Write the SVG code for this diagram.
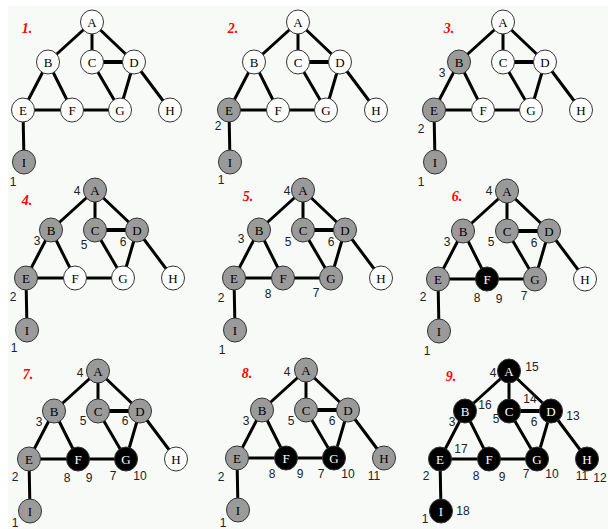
<svg xmlns="http://www.w3.org/2000/svg" xmlns:xlink="http://www.w3.org/1999/xlink" width="608" height="529" viewBox="0 0 608 529">
  <style>
    .edge { stroke: #000; stroke-width: 3; stroke-linecap: round; fill: none; }
    .node use { stroke: #333; stroke-width: 1; }
    .w use { fill: #fff; }
    .g use { fill: #9a9a9a; }
    .k use { fill: #000; }
    .node text { font-family: "Liberation Serif", "Times New Roman", serif; font-size: 13px; text-anchor: middle; fill: #000; }
    .k text { fill: #fff; }
    .num { font-family: "Liberation Sans", Arial, sans-serif; font-size: 12px; text-anchor: middle; fill: #222; }
    .step { font-family: "Liberation Serif", "Times New Roman", serif; font-size: 14px; font-style: italic; font-weight: bold; text-anchor: middle; fill: #f00; }
  </style>
  <defs>
    <!-- edge set shared by every step, relative to vertex A -->
    <g id="edges">
      <line x1="0" y1="0" x2="-44" y2="40"/>
      <line x1="0" y1="0" x2="0" y2="40"/>
      <line x1="0" y1="0" x2="42" y2="40"/>
      <line x1="-44" y1="40" x2="-69" y2="88"/>
      <line x1="-44" y1="40" x2="-20" y2="88"/>
      <line x1="0" y1="40" x2="42" y2="40" stroke-width="4"/>
      <line x1="0" y1="40" x2="28" y2="88"/>
      <line x1="42" y1="40" x2="28" y2="88"/>
      <line x1="42" y1="40" x2="78" y2="88"/>
      <line x1="-69" y1="88" x2="-20" y2="88"/>
      <line x1="-20" y1="88" x2="28" y2="88"/>
      <line x1="-69" y1="88" x2="-68" y2="140"/>
    </g>
    <ellipse id="v" rx="11.5" ry="12"/>
  </defs>

  <rect width="608" height="529" fill="#fff"/>
  <rect x="8" y="6" width="600" height="523" fill="#f7faf7"/>

  <!-- step labels -->
  <g id="steps">
    <text class="step" x="27" y="33">1.</text>
    <text class="step" x="233" y="33">2.</text>
    <text class="step" x="449" y="33">3.</text>
    <text class="step" x="27" y="205">4.</text>
    <text class="step" x="248" y="201">5.</text>
    <text class="step" x="457" y="201">6.</text>
    <text class="step" x="28" y="379">7.</text>
    <text class="step" x="247" y="378">8.</text>
    <text class="step" x="451" y="381">9.</text>
  </g>

  <!-- step 1 -->
  <g id="step1" transform="translate(92,22)">
    <g id="s1-connectors" class="edge"><use xlink:href="#edges"/></g>
    <g id="s1-A" class="node w"><use xlink:href="#v" x="0" y="0"/><text x="0" y="4.5">A</text></g>
    <g id="s1-B" class="node w"><use xlink:href="#v" x="-44" y="40"/><text x="-44" y="44.5">B</text></g>
    <g id="s1-C" class="node w"><use xlink:href="#v" x="0" y="40"/><text x="0" y="44.5">C</text></g>
    <g id="s1-D" class="node w"><use xlink:href="#v" x="42" y="40"/><text x="42" y="44.5">D</text></g>
    <g id="s1-E" class="node w"><use xlink:href="#v" x="-69" y="88"/><text x="-69" y="92.5">E</text></g>
    <g id="s1-F" class="node w"><use xlink:href="#v" x="-20" y="88"/><text x="-20" y="92.5">F</text></g>
    <g id="s1-G" class="node w"><use xlink:href="#v" x="28" y="88"/><text x="28" y="92.5">G</text></g>
    <g id="s1-H" class="node w"><use xlink:href="#v" x="78" y="88"/><text x="78" y="92.5">H</text></g>
    <g id="s1-I" class="node g"><use xlink:href="#v" x="-68" y="140"/><text x="-68" y="144.5">I</text></g>
    <text class="num" x="-79" y="164">1</text>
  </g>

  <!-- step 2 -->
  <g id="step2" transform="translate(298,22)">
    <g id="s2-connectors" class="edge"><use xlink:href="#edges"/></g>
    <g id="s2-A" class="node w"><use xlink:href="#v" x="0" y="0"/><text x="0" y="4.5">A</text></g>
    <g id="s2-B" class="node w"><use xlink:href="#v" x="-44" y="40"/><text x="-44" y="44.5">B</text></g>
    <g id="s2-C" class="node w"><use xlink:href="#v" x="0" y="40"/><text x="0" y="44.5">C</text></g>
    <g id="s2-D" class="node w"><use xlink:href="#v" x="42" y="40"/><text x="42" y="44.5">D</text></g>
    <g id="s2-E" class="node g"><use xlink:href="#v" x="-69" y="88"/><text x="-69" y="92.5">E</text></g>
    <g id="s2-F" class="node w"><use xlink:href="#v" x="-20" y="88"/><text x="-20" y="92.5">F</text></g>
    <g id="s2-G" class="node w"><use xlink:href="#v" x="28" y="88"/><text x="28" y="92.5">G</text></g>
    <g id="s2-H" class="node w"><use xlink:href="#v" x="78" y="88"/><text x="78" y="92.5">H</text></g>
    <g id="s2-I" class="node g"><use xlink:href="#v" x="-68" y="140"/><text x="-68" y="144.5">I</text></g>
    <text class="num" x="-80" y="108">2</text>
    <text class="num" x="-77" y="162">1</text>
  </g>

  <!-- step 3 -->
  <g id="step3" transform="translate(503,22)">
    <g id="s3-connectors" class="edge"><use xlink:href="#edges"/></g>
    <g id="s3-A" class="node w"><use xlink:href="#v" x="0" y="0"/><text x="0" y="4.5">A</text></g>
    <g id="s3-B" class="node g"><use xlink:href="#v" x="-44" y="40"/><text x="-44" y="44.5">B</text></g>
    <g id="s3-C" class="node w"><use xlink:href="#v" x="0" y="40"/><text x="0" y="44.5">C</text></g>
    <g id="s3-D" class="node w"><use xlink:href="#v" x="42" y="40"/><text x="42" y="44.5">D</text></g>
    <g id="s3-E" class="node g"><use xlink:href="#v" x="-69" y="88"/><text x="-69" y="92.5">E</text></g>
    <g id="s3-F" class="node w"><use xlink:href="#v" x="-20" y="88"/><text x="-20" y="92.5">F</text></g>
    <g id="s3-G" class="node w"><use xlink:href="#v" x="28" y="88"/><text x="28" y="92.5">G</text></g>
    <g id="s3-H" class="node w"><use xlink:href="#v" x="78" y="88"/><text x="78" y="92.5">H</text></g>
    <g id="s3-I" class="node g"><use xlink:href="#v" x="-68" y="140"/><text x="-68" y="144.5">I</text></g>
    <text class="num" x="-61" y="55">3</text>
    <text class="num" x="-82" y="111">2</text>
    <text class="num" x="-82" y="164">1</text>
  </g>

  <!-- step 4 -->
  <g id="step4" transform="translate(95,190)">
    <g id="s4-connectors" class="edge"><use xlink:href="#edges"/></g>
    <g id="s4-A" class="node g"><use xlink:href="#v" x="0" y="0"/><text x="0" y="4.5">A</text></g>
    <g id="s4-B" class="node g"><use xlink:href="#v" x="-44" y="40"/><text x="-44" y="44.5">B</text></g>
    <g id="s4-C" class="node g"><use xlink:href="#v" x="0" y="40"/><text x="0" y="44.5">C</text></g>
    <g id="s4-D" class="node g"><use xlink:href="#v" x="42" y="40"/><text x="42" y="44.5">D</text></g>
    <g id="s4-E" class="node g"><use xlink:href="#v" x="-69" y="88"/><text x="-69" y="92.5">E</text></g>
    <g id="s4-F" class="node w"><use xlink:href="#v" x="-20" y="88"/><text x="-20" y="92.5">F</text></g>
    <g id="s4-G" class="node w"><use xlink:href="#v" x="28" y="88"/><text x="28" y="92.5">G</text></g>
    <g id="s4-H" class="node w"><use xlink:href="#v" x="78" y="88"/><text x="78" y="92.5">H</text></g>
    <g id="s4-I" class="node g"><use xlink:href="#v" x="-68" y="140"/><text x="-68" y="144.5">I</text></g>
    <text class="num" x="-18" y="5">4</text>
    <text class="num" x="-58" y="55">3</text>
    <text class="num" x="-11" y="59">5</text>
    <text class="num" x="28" y="56">6</text>
    <text class="num" x="-82" y="111">2</text>
    <text class="num" x="-81" y="162">1</text>
  </g>

  <!-- step 5 -->
  <g id="step5" transform="translate(303,190)">
    <g id="s5-connectors" class="edge"><use xlink:href="#edges"/></g>
    <g id="s5-A" class="node g"><use xlink:href="#v" x="0" y="0"/><text x="0" y="4.5">A</text></g>
    <g id="s5-B" class="node g"><use xlink:href="#v" x="-44" y="40"/><text x="-44" y="44.5">B</text></g>
    <g id="s5-C" class="node g"><use xlink:href="#v" x="0" y="40"/><text x="0" y="44.5">C</text></g>
    <g id="s5-D" class="node g"><use xlink:href="#v" x="42" y="40"/><text x="42" y="44.5">D</text></g>
    <g id="s5-E" class="node g"><use xlink:href="#v" x="-69" y="88"/><text x="-69" y="92.5">E</text></g>
    <g id="s5-F" class="node g"><use xlink:href="#v" x="-20" y="88"/><text x="-20" y="92.5">F</text></g>
    <g id="s5-G" class="node g"><use xlink:href="#v" x="28" y="88"/><text x="28" y="92.5">G</text></g>
    <g id="s5-H" class="node w"><use xlink:href="#v" x="78" y="88"/><text x="78" y="92.5">H</text></g>
    <g id="s5-I" class="node g"><use xlink:href="#v" x="-68" y="140"/><text x="-68" y="144.5">I</text></g>
    <text class="num" x="-16" y="5">4</text>
    <text class="num" x="-62" y="53">3</text>
    <text class="num" x="-15" y="56">5</text>
    <text class="num" x="28" y="56">6</text>
    <text class="num" x="-82" y="112">2</text>
    <text class="num" x="-35" y="108">8</text>
    <text class="num" x="13" y="107">7</text>
    <text class="num" x="-81" y="164">1</text>
  </g>

  <!-- step 6 -->
  <g id="step6" transform="translate(507,191)">
    <g id="s6-connectors" class="edge"><use xlink:href="#edges"/></g>
    <g id="s6-A" class="node g"><use xlink:href="#v" x="0" y="0"/><text x="0" y="4.5">A</text></g>
    <g id="s6-B" class="node g"><use xlink:href="#v" x="-44" y="40"/><text x="-44" y="44.5">B</text></g>
    <g id="s6-C" class="node g"><use xlink:href="#v" x="0" y="40"/><text x="0" y="44.5">C</text></g>
    <g id="s6-D" class="node g"><use xlink:href="#v" x="42" y="40"/><text x="42" y="44.5">D</text></g>
    <g id="s6-E" class="node g"><use xlink:href="#v" x="-69" y="88"/><text x="-69" y="92.5">E</text></g>
    <g id="s6-F" class="node k"><use xlink:href="#v" x="-20" y="88"/><text x="-20" y="92.5">F</text></g>
    <g id="s6-G" class="node g"><use xlink:href="#v" x="28" y="88"/><text x="28" y="92.5">G</text></g>
    <g id="s6-H" class="node w"><use xlink:href="#v" x="78" y="88"/><text x="78" y="92.5">H</text></g>
    <g id="s6-I" class="node g"><use xlink:href="#v" x="-68" y="140"/><text x="-68" y="144.5">I</text></g>
    <text class="num" x="-18" y="4">4</text>
    <text class="num" x="-60" y="55">3</text>
    <text class="num" x="-16" y="55">5</text>
    <text class="num" x="27" y="56">6</text>
    <text class="num" x="-84" y="110">2</text>
    <text class="num" x="-30" y="111">8</text>
    <text class="num" x="-8" y="112">9</text>
    <text class="num" x="17" y="109">7</text>
    <text class="num" x="-80" y="164">1</text>
  </g>

  <!-- step 7 -->
  <g id="step7" transform="translate(98,371)">
    <g id="s7-connectors" class="edge"><use xlink:href="#edges"/></g>
    <g id="s7-A" class="node g"><use xlink:href="#v" x="0" y="0"/><text x="0" y="4.5">A</text></g>
    <g id="s7-B" class="node g"><use xlink:href="#v" x="-44" y="40"/><text x="-44" y="44.5">B</text></g>
    <g id="s7-C" class="node g"><use xlink:href="#v" x="0" y="40"/><text x="0" y="44.5">C</text></g>
    <g id="s7-D" class="node g"><use xlink:href="#v" x="42" y="40"/><text x="42" y="44.5">D</text></g>
    <g id="s7-E" class="node g"><use xlink:href="#v" x="-69" y="88"/><text x="-69" y="92.5">E</text></g>
    <g id="s7-F" class="node k"><use xlink:href="#v" x="-20" y="88"/><text x="-20" y="92.5">F</text></g>
    <g id="s7-G" class="node k"><use xlink:href="#v" x="28" y="88"/><text x="28" y="92.5">G</text></g>
    <g id="s7-H" class="node w"><use xlink:href="#v" x="78" y="88"/><text x="78" y="92.5">H</text></g>
    <g id="s7-I" class="node g"><use xlink:href="#v" x="-68" y="140"/><text x="-68" y="144.5">I</text></g>
    <text class="num" x="-18" y="6">4</text>
    <text class="num" x="-59" y="55">3</text>
    <text class="num" x="-15" y="54">5</text>
    <text class="num" x="27" y="54">6</text>
    <text class="num" x="-83" y="110">2</text>
    <text class="num" x="-31" y="111">8</text>
    <text class="num" x="-9" y="111">9</text>
    <text class="num" x="15" y="109">7</text>
    <text class="num" x="42" y="109">10</text>
    <text class="num" x="-83" y="156">1</text>
  </g>

  <!-- step 8 -->
  <g id="step8" transform="translate(306,370)">
    <g id="s8-connectors" class="edge"><use xlink:href="#edges"/></g>
    <g id="s8-A" class="node g"><use xlink:href="#v" x="0" y="0"/><text x="0" y="4.5">A</text></g>
    <g id="s8-B" class="node g"><use xlink:href="#v" x="-44" y="40"/><text x="-44" y="44.5">B</text></g>
    <g id="s8-C" class="node g"><use xlink:href="#v" x="0" y="40"/><text x="0" y="44.5">C</text></g>
    <g id="s8-D" class="node g"><use xlink:href="#v" x="42" y="40"/><text x="42" y="44.5">D</text></g>
    <g id="s8-E" class="node g"><use xlink:href="#v" x="-69" y="88"/><text x="-69" y="92.5">E</text></g>
    <g id="s8-F" class="node k"><use xlink:href="#v" x="-20" y="88"/><text x="-20" y="92.5">F</text></g>
    <g id="s8-G" class="node k"><use xlink:href="#v" x="28" y="88"/><text x="28" y="92.5">G</text></g>
    <g id="s8-H" class="node g"><use xlink:href="#v" x="78" y="88"/><text x="78" y="92.5">H</text></g>
    <g id="s8-I" class="node g"><use xlink:href="#v" x="-68" y="140"/><text x="-68" y="144.5">I</text></g>
    <text class="num" x="-19" y="6">4</text>
    <text class="num" x="-60" y="55">3</text>
    <text class="num" x="-15" y="55">5</text>
    <text class="num" x="26" y="55">6</text>
    <text class="num" x="-85" y="111">2</text>
    <text class="num" x="-34" y="108">8</text>
    <text class="num" x="-6" y="108">9</text>
    <text class="num" x="15" y="108">7</text>
    <text class="num" x="42" y="108">10</text>
    <text class="num" x="68" y="110">11</text>
    <text class="num" x="-83" y="157">1</text>
  </g>

  <!-- step 9 -->
  <g id="step9" transform="translate(509,371)">
    <g id="s9-connectors" class="edge"><use xlink:href="#edges"/></g>
    <g id="s9-A" class="node k"><use xlink:href="#v" x="0" y="0"/><text x="0" y="4.5">A</text></g>
    <g id="s9-B" class="node k"><use xlink:href="#v" x="-44" y="40"/><text x="-44" y="44.5">B</text></g>
    <g id="s9-C" class="node k"><use xlink:href="#v" x="0" y="40"/><text x="0" y="44.5">C</text></g>
    <g id="s9-D" class="node k"><use xlink:href="#v" x="42" y="40"/><text x="42" y="44.5">D</text></g>
    <g id="s9-E" class="node k"><use xlink:href="#v" x="-69" y="88"/><text x="-69" y="92.5">E</text></g>
    <g id="s9-F" class="node k"><use xlink:href="#v" x="-20" y="88"/><text x="-20" y="92.5">F</text></g>
    <g id="s9-G" class="node k"><use xlink:href="#v" x="28" y="88"/><text x="28" y="92.5">G</text></g>
    <g id="s9-H" class="node k"><use xlink:href="#v" x="78" y="88"/><text x="78" y="92.5">H</text></g>
    <g id="s9-I" class="node k"><use xlink:href="#v" x="-68" y="140"/><text x="-68" y="144.5">I</text></g>
    <text class="num" x="-16" y="6">4</text>
    <text class="num" x="23" y="0">15</text>
    <text class="num" x="-24" y="38">16</text>
    <text class="num" x="-57" y="55">3</text>
    <text class="num" x="21" y="32">14</text>
    <text class="num" x="-13" y="52">5</text>
    <text class="num" x="25" y="55">6</text>
    <text class="num" x="64" y="49">13</text>
    <text class="num" x="-48" y="82">17</text>
    <text class="num" x="-83" y="109">2</text>
    <text class="num" x="-33" y="109">8</text>
    <text class="num" x="-7" y="110">9</text>
    <text class="num" x="17" y="107">7</text>
    <text class="num" x="43" y="107">10</text>
    <text class="num" x="73" y="109">11</text>
    <text class="num" x="91" y="111">12</text>
    <text class="num" x="-84" y="152">1</text>
    <text class="num" x="-46" y="144">18</text>
  </g>
</svg>
